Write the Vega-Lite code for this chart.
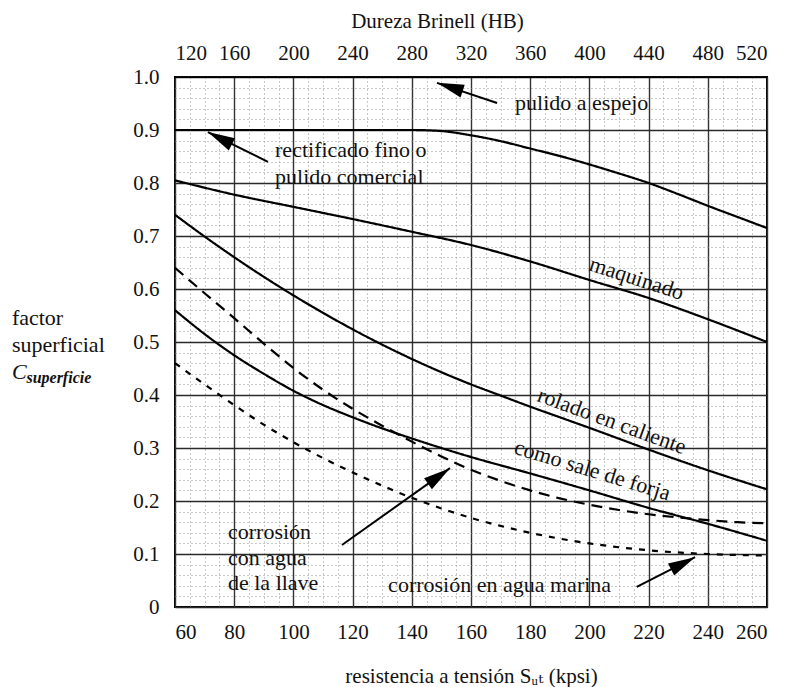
{
  "$schema": "https://vega.github.io/schema/vega-lite/v6.json",
  "width": 592,
  "height": 530,
  "autosize": "none",
  "padding": {"left": 175, "top": 77, "right": 20, "bottom": 80},
  "background": "white",
  "config": {
    "font": "Times New Roman, Liberation Serif, DejaVu Serif, serif",
    "view": {"stroke": "black", "strokeWidth": 2},
    "text": {"font": "Times New Roman, Liberation Serif, DejaVu Serif, serif"},
    "axis": {
      "labelFont": "Times New Roman, Liberation Serif, DejaVu Serif, serif",
      "titleFont": "Times New Roman, Liberation Serif, DejaVu Serif, serif",
      "labelFontSize": 21,
      "titleFontSize": 21,
      "labelColor": "#111",
      "titleColor": "#111",
      "titleFontWeight": "normal",
      "domain": false,
      "ticks": false
    }
  },
  "datasets": {
    "hb": [{"HB": 120}, {"HB": 520}],
    "curves": [
      {"s": "pulido", "k": 60, "v": 1.0}, {"s": "pulido", "k": 260, "v": 1.0},
      {"s": "rect", "k": 60, "v": 0.9}, {"s": "rect", "k": 80, "v": 0.9}, {"s": "rect", "k": 100, "v": 0.9}, {"s": "rect", "k": 120, "v": 0.9}, {"s": "rect", "k": 140, "v": 0.9}, {"s": "rect", "k": 150, "v": 0.898}, {"s": "rect", "k": 160, "v": 0.89}, {"s": "rect", "k": 170, "v": 0.879}, {"s": "rect", "k": 180, "v": 0.865}, {"s": "rect", "k": 190, "v": 0.851}, {"s": "rect", "k": 200, "v": 0.835}, {"s": "rect", "k": 210, "v": 0.818}, {"s": "rect", "k": 220, "v": 0.8}, {"s": "rect", "k": 230, "v": 0.779}, {"s": "rect", "k": 240, "v": 0.757}, {"s": "rect", "k": 250, "v": 0.736}, {"s": "rect", "k": 260, "v": 0.715},
      {"s": "maq", "k": 60, "v": 0.805}, {"s": "maq", "k": 80, "v": 0.778}, {"s": "maq", "k": 100, "v": 0.755}, {"s": "maq", "k": 120, "v": 0.732}, {"s": "maq", "k": 140, "v": 0.708}, {"s": "maq", "k": 160, "v": 0.683}, {"s": "maq", "k": 180, "v": 0.652}, {"s": "maq", "k": 200, "v": 0.617}, {"s": "maq", "k": 220, "v": 0.583}, {"s": "maq", "k": 240, "v": 0.543}, {"s": "maq", "k": 260, "v": 0.5},
      {"s": "rolado", "k": 60, "v": 0.74}, {"s": "rolado", "k": 70, "v": 0.699}, {"s": "rolado", "k": 80, "v": 0.66}, {"s": "rolado", "k": 90, "v": 0.623}, {"s": "rolado", "k": 100, "v": 0.588}, {"s": "rolado", "k": 110, "v": 0.555}, {"s": "rolado", "k": 120, "v": 0.524}, {"s": "rolado", "k": 130, "v": 0.495}, {"s": "rolado", "k": 140, "v": 0.468}, {"s": "rolado", "k": 150, "v": 0.443}, {"s": "rolado", "k": 160, "v": 0.42}, {"s": "rolado", "k": 170, "v": 0.399}, {"s": "rolado", "k": 180, "v": 0.378}, {"s": "rolado", "k": 190, "v": 0.358}, {"s": "rolado", "k": 200, "v": 0.338}, {"s": "rolado", "k": 220, "v": 0.297}, {"s": "rolado", "k": 240, "v": 0.258}, {"s": "rolado", "k": 260, "v": 0.222},
      {"s": "forja", "k": 60, "v": 0.56}, {"s": "forja", "k": 70, "v": 0.515}, {"s": "forja", "k": 80, "v": 0.475}, {"s": "forja", "k": 90, "v": 0.44}, {"s": "forja", "k": 100, "v": 0.408}, {"s": "forja", "k": 110, "v": 0.381}, {"s": "forja", "k": 120, "v": 0.358}, {"s": "forja", "k": 130, "v": 0.337}, {"s": "forja", "k": 140, "v": 0.318}, {"s": "forja", "k": 150, "v": 0.3}, {"s": "forja", "k": 160, "v": 0.283}, {"s": "forja", "k": 180, "v": 0.252}, {"s": "forja", "k": 200, "v": 0.22}, {"s": "forja", "k": 220, "v": 0.187}, {"s": "forja", "k": 240, "v": 0.157}, {"s": "forja", "k": 260, "v": 0.125},
      {"s": "llave", "k": 60, "v": 0.64}, {"s": "llave", "k": 70, "v": 0.592}, {"s": "llave", "k": 80, "v": 0.545}, {"s": "llave", "k": 90, "v": 0.497}, {"s": "llave", "k": 100, "v": 0.451}, {"s": "llave", "k": 110, "v": 0.41}, {"s": "llave", "k": 120, "v": 0.374}, {"s": "llave", "k": 130, "v": 0.342}, {"s": "llave", "k": 140, "v": 0.312}, {"s": "llave", "k": 150, "v": 0.284}, {"s": "llave", "k": 160, "v": 0.259}, {"s": "llave", "k": 170, "v": 0.238}, {"s": "llave", "k": 180, "v": 0.22}, {"s": "llave", "k": 190, "v": 0.205}, {"s": "llave", "k": 200, "v": 0.193}, {"s": "llave", "k": 210, "v": 0.183}, {"s": "llave", "k": 220, "v": 0.175}, {"s": "llave", "k": 230, "v": 0.169}, {"s": "llave", "k": 240, "v": 0.164}, {"s": "llave", "k": 250, "v": 0.16}, {"s": "llave", "k": 260, "v": 0.158},
      {"s": "marina", "k": 60, "v": 0.46}, {"s": "marina", "k": 70, "v": 0.42}, {"s": "marina", "k": 80, "v": 0.381}, {"s": "marina", "k": 90, "v": 0.344}, {"s": "marina", "k": 100, "v": 0.311}, {"s": "marina", "k": 110, "v": 0.281}, {"s": "marina", "k": 120, "v": 0.254}, {"s": "marina", "k": 130, "v": 0.229}, {"s": "marina", "k": 140, "v": 0.206}, {"s": "marina", "k": 150, "v": 0.186}, {"s": "marina", "k": 160, "v": 0.168}, {"s": "marina", "k": 170, "v": 0.153}, {"s": "marina", "k": 180, "v": 0.14}, {"s": "marina", "k": 190, "v": 0.129}, {"s": "marina", "k": 200, "v": 0.12}, {"s": "marina", "k": 220, "v": 0.107}, {"s": "marina", "k": 240, "v": 0.1}, {"s": "marina", "k": 260, "v": 0.097}
    ],
    "labels": [
      {"t": "pulido a espejo", "k": 174.9, "v": 0.951},
      {"t": "rectificado fino o", "k": 93.8, "v": 0.862},
      {"t": "pulido comercial", "k": 93.8, "v": 0.811},
      {"t": "corrosión", "k": 77.9, "v": 0.1415},
      {"t": "con agua", "k": 77.9, "v": 0.0925},
      {"t": "de la llave", "k": 77.9, "v": 0.045},
      {"t": "corrosión en agua marina", "k": 132, "v": 0.042},
      {"t": "factor", "k": 4.9, "v": 0.545},
      {"t": "superficial", "k": 4.9, "v": 0.494}
    ],
    "ylabC": [{"t": "C", "k": 4.9, "v": 0.443}],
    "ylabSub": [{"t": "superficie", "k": 9.8, "v": 0.432}],
    "rot1": [{"t": "maquinado", "k": 216, "v": 0.62}],
    "rot2": [{"t": "rolado en caliente", "k": 207.6, "v": 0.351}],
    "rot3": [{"t": "como sale de forja", "k": 201, "v": 0.258}],
    "arrows": [
      {"a": "pulido", "k": 148.5, "v": 0.989, "k2": 168.8, "v2": 0.951},
      {"a": "rect", "k": 71.1, "v": 0.896, "k2": 91.4, "v2": 0.84},
      {"a": "llave", "k": 152.9, "v": 0.262, "k2": 116.4, "v2": 0.117},
      {"a": "marina", "k": 235.7, "v": 0.094, "k2": 216, "v2": 0.038}
    ]
  },
  "resolve": {
    "scale": {"x": "independent", "y": "independent"},
    "axis": {"x": "independent", "y": "independent"}
  },
  "layer": [
    {
      "data": {"name": "hb"},
      "mark": {"type": "point", "opacity": 0},
      "encoding": {
        "x": {
          "field": "HB", "type": "quantitative",
          "scale": {"domain": [120, 520], "nice": false, "zero": false},
          "axis": {"orient": "bottom", "values": [130, 140, 150, 170, 180, 190, 210, 220, 230, 250, 260, 270, 290, 300, 310, 330, 340, 350, 370, 380, 390, 410, 420, 430, 450, 460, 470, 490, 500, 510], "grid": true, "gridColor": "#909090", "gridDash": [1, 3], "gridWidth": 1, "labels": false, "title": null}
        },
        "y": {
          "datum": 0.5, "type": "quantitative",
          "scale": {"domain": [0, 1], "nice": false},
          "axis": {"orient": "left", "values": [0.02, 0.04, 0.06, 0.08, 0.12, 0.14, 0.16, 0.18, 0.22, 0.24, 0.26, 0.28, 0.32, 0.34, 0.36, 0.38, 0.42, 0.44, 0.46, 0.48, 0.52, 0.54, 0.56, 0.58, 0.62, 0.64, 0.66, 0.68, 0.72, 0.74, 0.76, 0.78, 0.82, 0.84, 0.86, 0.88, 0.92, 0.94, 0.96, 0.98], "grid": true, "gridColor": "#909090", "gridDash": [1, 3], "gridWidth": 1, "labels": false, "title": null}
        }
      }
    },
    {
      "data": {"name": "hb"},
      "mark": {"type": "rule", "opacity": 0},
      "encoding": {
        "x": {
          "field": "HB", "type": "quantitative",
          "scale": {"domain": [120, 520], "nice": false, "zero": false},
          "axis": {"orient": "top", "values": [120, 160, 200, 240, 280, 320, 360, 400, 440, 480, 520], "grid": false, "labelPadding": 14, "title": "Dureza Brinell (HB)", "titlePadding": 11, "titleX": 262}
        }
      }
    },
    {
      "encoding": {
        "x": {
          "field": "k", "type": "quantitative",
          "scale": {"domain": [60, 260], "nice": false, "zero": false},
          "axis": {"orient": "bottom", "values": [60, 80, 100, 120, 140, 160, 180, 200, 220, 240, 260], "grid": true, "gridColor": "#333", "gridWidth": 1.4, "labelPadding": 14, "title": "resistencia a tensión Sᵤₜ (kpsi)", "titlePadding": 23}
        },
        "y": {
          "field": "v", "type": "quantitative",
          "scale": {"domain": [0, 1], "nice": false},
          "axis": {"orient": "left", "values": [0, 0.1, 0.2, 0.3, 0.4, 0.5, 0.6, 0.7, 0.8, 0.9, 1.0], "grid": true, "gridColor": "#2a2a2a", "gridWidth": 1.7, "labelPadding": 16, "labelExpr": "datum.value == 0 ? '0' : format(datum.value, '.1f')", "title": null}
        }
      },
      "layer": [
        {
          "data": {"name": "curves"},
          "mark": {"type": "line", "color": "black", "strokeWidth": 2.2, "interpolate": "monotone", "clip": true},
          "encoding": {
            "detail": {"field": "s"},
            "strokeDash": {
              "field": "s", "type": "nominal",
              "scale": {"domain": ["pulido", "rect", "maq", "rolado", "forja", "llave", "marina"], "range": [[1, 0], [1, 0], [1, 0], [1, 0], [1, 0], [11, 7], [6, 7]]},
              "legend": null
            }
          }
        },
        {
          "data": {"name": "arrows"},
          "mark": {"type": "rule", "color": "black", "strokeWidth": 2},
          "encoding": {
            "x2": {"field": "k2"},
            "y2": {"field": "v2"}
          }
        },
        {
          "data": {"name": "arrows"},
          "transform": [{"filter": "datum.a == 'pulido'"}],
          "mark": {"type": "point", "shape": "M0,0L0.5,2L-0.5,2Z", "size": 729, "filled": true, "color": "black", "opacity": 1, "angle": 288}
        },
        {
          "data": {"name": "arrows"},
          "transform": [{"filter": "datum.a == 'rect'"}],
          "mark": {"type": "point", "shape": "M0,0L0.5,2L-0.5,2Z", "size": 729, "filled": true, "color": "black", "opacity": 1, "angle": 297}
        },
        {
          "data": {"name": "arrows"},
          "transform": [{"filter": "datum.a == 'llave'"}],
          "mark": {"type": "point", "shape": "M0,0L0.5,2L-0.5,2Z", "size": 729, "filled": true, "color": "black", "opacity": 1, "angle": 54.5}
        },
        {
          "data": {"name": "arrows"},
          "transform": [{"filter": "datum.a == 'marina'"}],
          "mark": {"type": "point", "shape": "M0,0L0.5,2L-0.5,2Z", "size": 729, "filled": true, "color": "black", "opacity": 1, "angle": 62.6}
        },
        {
          "data": {"name": "labels"},
          "mark": {"type": "text", "align": "left", "baseline": "middle", "fontSize": 22, "color": "#111"},
          "encoding": {"text": {"field": "t"}}
        },
        {
          "data": {"name": "ylabC"},
          "mark": {"type": "text", "align": "left", "baseline": "middle", "fontSize": 22, "fontStyle": "italic", "color": "#111"},
          "encoding": {"text": {"field": "t"}}
        },
        {
          "data": {"name": "ylabSub"},
          "mark": {"type": "text", "align": "left", "baseline": "middle", "fontSize": 16, "fontStyle": "italic", "fontWeight": "bold", "color": "#111"},
          "encoding": {"text": {"field": "t"}}
        },
        {
          "data": {"name": "rot1"},
          "mark": {"type": "text", "align": "center", "baseline": "middle", "fontSize": 22, "angle": 18, "color": "#111"},
          "encoding": {"text": {"field": "t"}}
        },
        {
          "data": {"name": "rot2"},
          "mark": {"type": "text", "align": "center", "baseline": "middle", "fontSize": 22, "angle": 20, "color": "#111"},
          "encoding": {"text": {"field": "t"}}
        },
        {
          "data": {"name": "rot3"},
          "mark": {"type": "text", "align": "center", "baseline": "middle", "fontSize": 22, "angle": 17, "color": "#111"},
          "encoding": {"text": {"field": "t"}}
        }
      ]
    }
  ]
}
